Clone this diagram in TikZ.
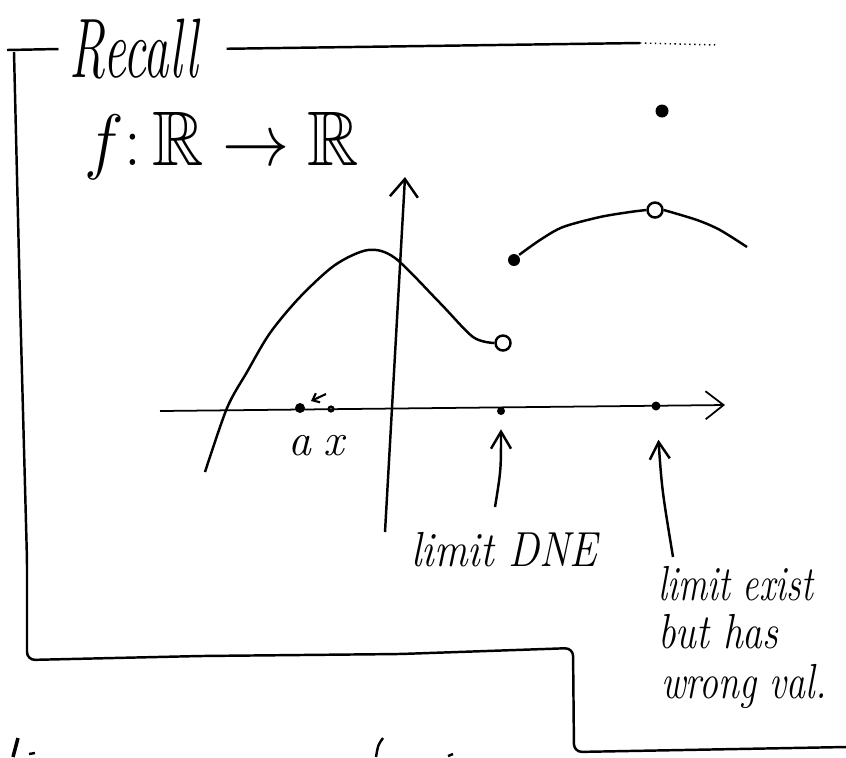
\documentclass[tikz,border=0pt]{standalone}
\usepackage{amssymb}
\usepackage{graphicx}
\usetikzlibrary{arrows.meta}
\newcommand{\squeeze}[2]{\scalebox{#1}[1]{#2}}

\begin{document}
\begin{tikzpicture}[x=0.01cm,y=-0.01cm,line width=0.7pt,
    fulldot/.style={circle,fill=black,inner sep=0pt,minimum size=#1},
    fulldot/.default=0.1cm,
    hole/.style={circle,draw,fill=white,inner sep=0pt,minimum size=0.15cm},
    axisarrow/.style={-{Straight Barb[length=0.18cm,width=0.28cm]}},
    pointer/.style={-{Straight Barb[length=0.17cm,width=0.2cm]}},
    hand/.style={font=\fontsize{#1}{#1}\selectfont\itshape,inner sep=0pt}]
    \useasboundingbox (0,0) rectangle (846,757);

    % Frame with title
    \node[hand=24,inner xsep=0.1cm] (recall) at (134,49) {\squeeze{0.6}{Recall}};
    \draw (7,50) -- (recall.west);
    \draw[shorten <=0.17cm] (recall.east) -- (640,43);
    \draw[densely dotted,line width=0.4pt] (640,43) -- (717,45);
    \draw[rounded corners=0.08cm] (14,52) -- (20,300) -- (27,560) -- (27,660)
        -- (200,656) -- (400,654) -- (573,648) -- (574,752) -- (846,747);

    % Map
    \node[font=\fontsize{22}{22}\selectfont,anchor=base,inner sep=0pt] (map) at (222,165)
        {\squeeze{0.92}{$f\colon \mathbb{R}\to\mathbb{R}$}};

    % Draw axes
    \coordinate (xL) at (160,411);
    \coordinate (xR) at (725,405);
    \coordinate (yB) at (385,532);
    \coordinate (yT) at (405,177);
    \draw[axisarrow,line width=0.5pt] (xL) -- (xR);
    \draw[axisarrow] (yB) -- (yT);

    % Points
    \node[fulldot] (pA) at (300,408) {};
    \node[circle,draw,inner sep=0pt,minimum size=0.05cm,line width=0.6pt] (pX) at (331,409) {};
    \node[fulldot=0.08cm] (pDNE) at (501,411) {};
    \node[fulldot=0.09cm] (pWrong) at (656,406) {};
    \node[hole] (hLeft) at (503,343) {};
    \node[fulldot=0.12cm] (cRight) at (514,260) {};
    \node[hole] (hTop) at (655,210) {};
    \node[fulldot=0.13cm] (pVal) at (662,111) {};

    % Graph of f
    \draw plot[smooth] coordinates {(205,472) (227,408) (247,372) (270,333) (300,297)
        (335,265) (368,250) (395,258) (440,303) (473,337) (hLeft.west)};
    \draw plot[smooth] coordinates {(cRight.north east) (540,240) (563,227) (600,217)
        (630,212) (hTop.west)};
    \draw plot[smooth] coordinates {(hTop.east) (697,220) (720,230) (747,247)};

    % x tends to a
    \node[hand=13,anchor=base] (lblA) at (300,455) {a};
    \node[hand=13,anchor=base] (lblX) at (334,455) {x};
    \coordinate (fromX) at (326,394);
    \coordinate (toA) at (311,401);
    \draw[-{Straight Barb[length=0.06cm,width=0.1cm]},line width=0.6pt] (fromX) -- (toA);

    % Annotations
    \node[hand=14,anchor=base west] (dne) at (410,566) {\squeeze{0.85}{limit DNE}};
    \coordinate (dneTail) at (495,507);
    \draw[pointer,shorten >=0.13cm] (dneTail) .. controls (501,470) .. (pDNE);

    \node[hand=14,anchor=base west] (ex1) at (657,600) {\squeeze{0.74}{limit exist}};
    \node[hand=14,anchor=base west] (ex2) at (657,648) {\squeeze{0.8}{but has}};
    \node[hand=14,anchor=base west] (ex3) at (660,698) {\squeeze{0.77}{wrong val.}};
    \coordinate (exTail) at (673,557);
    \draw[pointer,shorten >=0.28cm] (exTail) .. controls (662,490) .. (pWrong);

    % Cut-off strokes of the next line
    \draw[line width=1pt] (13,757) -- (18,738);
    \draw (29,754) -- (35,753);
    \draw (376,757) .. controls (378,745) .. (383,738);
    \draw (448,756) -- (453,754);
\end{tikzpicture}
\end{document}
